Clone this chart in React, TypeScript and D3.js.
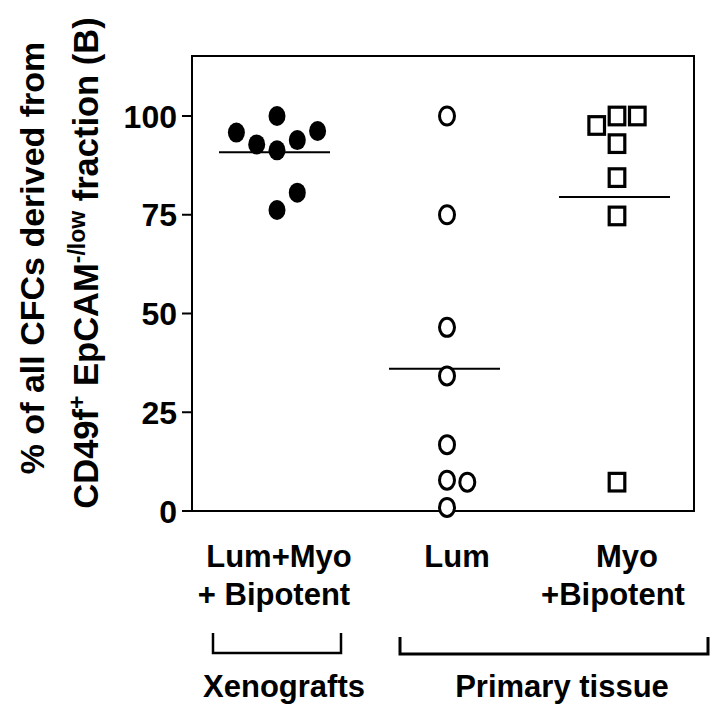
import React from "react";
import * as d3 from "d3";

// ---- data ----
const groups = ["xeno", "lum", "myo"];
const yTicks = [0, 25, 50, 75, 100];

const xenoValues = [100, 95.8, 96.2, 92.8, 93.9, 91.3, 80.6, 76.2];
const xenoOffsets = [0, -2, 2, -1, 1, 0, 1, 0];

const lumValues = [100, 75, 46.5, 34.2, 16.8, 7.8, 7.3, 0.9];
const lumOffsets = [0, 0, 0, 0, 0, 0, 1, 0];

const myoValues = [97.6, 100, 100, 93.0, 84.4, 74.7, 7.3];
const myoOffsets = [-1, 0, 1, 0, 0, 0, 0];

const medians = [90.8, 36.0, 79.5];

const labelLines = [
  ["Lum+Myo", "+ Bipotent"],
  ["Lum"],
  ["Myo", "+Bipotent"],
];

const W = 721;
const H = 707;
const FONT = "'Liberation Sans', Arial, Helvetica, sans-serif";

export default function App() {
  const left = 192, right = 694, top = 56, bottom = 511;
  const y = d3.scaleLinear().domain([0, 100]).range([bottom, 116]);
  const x = d3.scalePoint<string>().domain(groups).range([277, 617]);
  const slot = 20.3;

  const px = (g: string, off: number) => (x(g) as number) + off * slot;

  return (
    <svg
      width={W}
      height={H}
      style={{ position: "absolute", left: 0, top: 0, background: "#fff" }}
      fontFamily={FONT}
    >
      <rect x={0} y={0} width={W} height={H} fill="#fff" />
      {/* frame */}
      <rect x={left} y={top} width={right - left} height={bottom - top} fill="none" stroke="#000" strokeWidth={2} />

      {/* y ticks */}
      {yTicks.map((t) => (
        <g key={t}>
          <line x1={left - 10} x2={left} y1={y(t)} y2={y(t)} stroke="#000" strokeWidth={2} />
          <text x={left - 15} y={y(t)} dy="0.36em" textAnchor="end" fontSize={32} fontWeight="bold">
            {t}
          </text>
        </g>
      ))}

      {/* y title */}
      <g transform={`translate(44, 258) rotate(-90)`}>
        <text x={0} y={0} textAnchor="middle" fontSize={34} fontWeight="bold">
          % of all CFCs derived from
        </text>
      </g>
      <g transform={`translate(98, 263) rotate(-90)`}>
        <text x={0} y={0} textAnchor="middle" fontSize={34.5} fontWeight="bold">
          CD49f
          <tspan fontSize={23} dy={-13}>+</tspan>
          <tspan dy={13}> EpCAM</tspan>
          <tspan fontSize={23} dy={-13}>-/low</tspan>
          <tspan dy={13}> fraction (B)</tspan>
        </text>
      </g>

      {/* medians */}
      {groups.map((g, i) => (
        <line
          key={"m" + g}
          x1={(x(g) as number) - 58}
          x2={(x(g) as number) + 53}
          y1={y(medians[i])}
          y2={y(medians[i])}
          stroke="#000"
          strokeWidth={2}
        />
      ))}

      {/* xenograft filled circles */}
      {xenoValues.map((v, i) => (
        <ellipse key={"x" + i} cx={px("xeno", xenoOffsets[i])} cy={y(v)} rx={8.5} ry={10} fill="#000" />
      ))}

      {/* lum open circles */}
      {lumValues.map((v, i) => (
        <ellipse
          key={"l" + i}
          cx={px("lum", lumOffsets[i])}
          cy={y(v)}
          rx={7.5}
          ry={9}
          fill="#fff"
          stroke="#000"
          strokeWidth={3}
        />
      ))}

      {/* myo open squares */}
      {myoValues.map((v, i) => (
        <rect
          key={"s" + i}
          x={px("myo", myoOffsets[i]) - 7.8}
          y={y(v) - 8.8}
          width={15.6}
          height={17.6}
          fill="#fff"
          stroke="#000"
          strokeWidth={3.2}
        />
      ))}

      {/* category labels */}
      <text x={279} y={567} textAnchor="middle" fontSize={31} fontWeight="bold">{labelLines[0][0]}</text>
      <text x={274} y={605} textAnchor="middle" fontSize={31} fontWeight="bold">{labelLines[0][1]}</text>
      <text x={457} y={567} textAnchor="middle" fontSize={31} fontWeight="bold">{labelLines[1][0]}</text>
      <text x={627} y={567} textAnchor="middle" fontSize={31} fontWeight="bold">{labelLines[2][0]}</text>
      <text x={613} y={605} textAnchor="middle" fontSize={31} fontWeight="bold">{labelLines[2][1]}</text>

      {/* brackets */}
      <path d="M213,633 V653 H341 V633" fill="none" stroke="#000" strokeWidth={2.5} />
      <path d="M400,637 V654 H708 V637" fill="none" stroke="#000" strokeWidth={3} />
      <text x={284} y={697} textAnchor="middle" fontSize={31} fontWeight="bold">Xenografts</text>
      <text x={562} y={697} textAnchor="middle" fontSize={31} fontWeight="bold">Primary tissue</text>
    </svg>
  );
}
